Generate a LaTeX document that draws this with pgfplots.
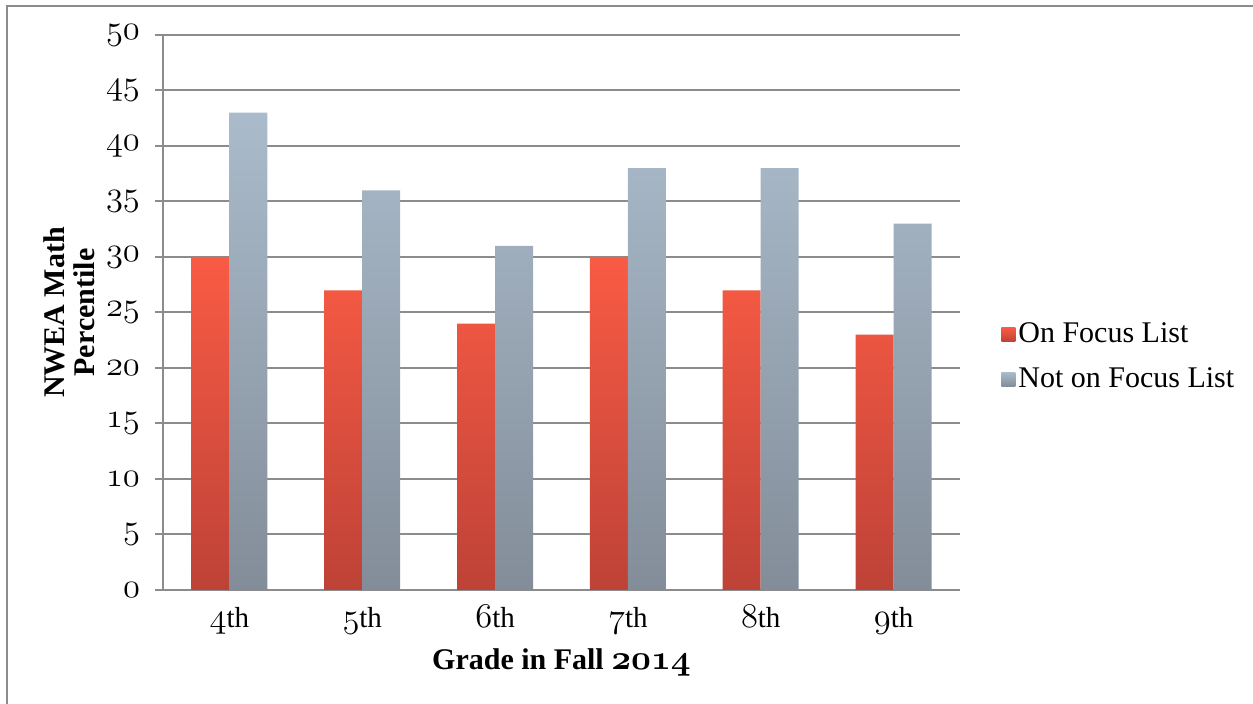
\documentclass[border=0pt]{standalone}
\usepackage{fontspec}
\setmainfont{Liberation Serif}
\usepackage{pgfplots}
\pgfplotsset{compat=1.18}
\usetikzlibrary{shadings}
\newcommand\osn[1]{{\fontsize{17}{18}\usefont{OML}{cmm}{m}{it}#1}}
\newcommand\osnb[1]{{\fontsize{16}{18}\usefont{OML}{cmm}{b}{it}#1}}
\definecolor{redtop}{HTML}{F95B44}
\definecolor{redbot}{HTML}{BE4237}
\definecolor{graytop}{HTML}{AABBCB}
\definecolor{graybot}{HTML}{838D99}
\definecolor{gridc}{HTML}{8C8C8C}
\begin{document}
\begin{tikzpicture}
\path[use as bounding box] (0,0) rectangle (626.5pt,352pt);
\draw[gridc, line width=1pt] (3.5pt,0) -- (3.5pt,349pt) -- (626.5pt,349pt);
\begin{axis}[
  at={(81.5pt,57pt)}, anchor=south west,
  scale only axis, width=398.5pt, height=277.5pt,
  ybar=0pt, bar width=19pt,
  xmin=-0.5, xmax=5.5, ymin=0, ymax=50,
  axis lines*=left,
  axis line style={gridc, line width=1pt},
  xtick={0,1,2,3,4,5},
  xticklabels={\osn{4}th,\osn{5}th,\osn{6}th,\osn{7}th,\osn{8}th,\osn{9}th},
  ytick={0,5,...,50},
  yticklabels={\osn{0},\osn{5},\osn{10},\osn{15},\osn{20},\osn{25},\osn{30},\osn{35},\osn{40},\osn{45},\osn{50}},
  x tick style={draw=none},
  y tick style={gridc, line width=1pt},
  tick align=outside, major tick length=4pt,
  ymajorgrids, grid style={gridc, line width=1pt},
  every tick label/.append style={font=\fontsize{14.5}{16}\selectfont},
  yticklabel style={anchor=east, xshift=-4pt},
  xticklabel style={anchor=base, yshift=-15pt},
  xlabel={\textbf{Grade in Fall \osnb{2014}}},
  ylabel={\textbf{NWEA Math}\\\textbf{Percentile}},
  xlabel style={at={(axis description cs:0.5,0)}, anchor=center, yshift=-36pt, font=\fontsize{15}{15}\selectfont},
  ylabel style={at={(axis description cs:-0.118,0.5)}, anchor=center, align=center, font=\fontsize{15}{15}\selectfont},
  legend style={at={(1.0514,0.42)}, anchor=west, draw=none, fill=none, inner sep=0pt, row sep=8pt, font=\fontsize{15}{16}\selectfont, nodes={inner sep=1.5pt}},
  legend cell align=left,
  legend image code/.code={\path[#1, draw=none] (0pt,-3.5pt) rectangle (7pt,3.5pt);},
]
\addplot[draw=none, top color=redtop, bottom color=redbot] coordinates {(0,30) (1,27) (2,24) (3,30) (4,27) (5,23)};
\addplot[draw=none, top color=graytop, bottom color=graybot] coordinates {(0,43) (1,36) (2,31) (3,38) (4,38) (5,33)};
\legend{On Focus List, Not on Focus List}
\end{axis}
\end{tikzpicture}
\end{document}
